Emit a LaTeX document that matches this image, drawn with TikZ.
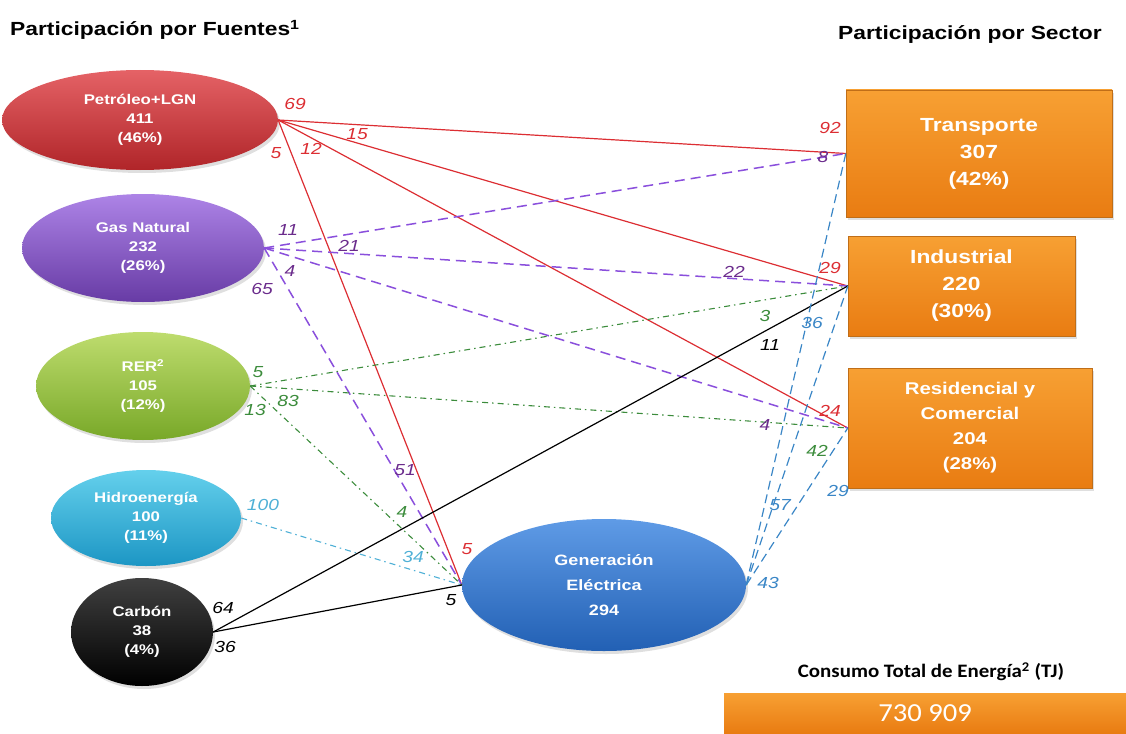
\documentclass[tikz,border=0pt]{standalone}
\usepackage{fontspec}
\setmainfont{Liberation Sans}
\newfontfamily\ancha[FakeStretch=1.2]{Liberation Sans}
\newfontfamily\calfont[FakeStretch=1.1]{Carlito}
\usetikzlibrary{shapes.geometric,shadows}
\definecolor{rojo}{HTML}{DC2E33}
\definecolor{morado}{HTML}{8A4FDC}
\definecolor{moradoT}{HTML}{6B2C8C}
\definecolor{verde}{HTML}{3C8C3C}
\definecolor{celeste}{HTML}{4FB0D6}
\definecolor{azul}{HTML}{3A86C6}
\definecolor{naranja}{HTML}{F08A1E}

\begin{document}
\begin{tikzpicture}[x=1pt,y=-1pt,
  fuente/.style={ellipse,inner sep=0pt,text=white,align=center,
    drop shadow={opacity=0.25,shadow xshift=2pt,shadow yshift=-3pt},
    font=\ancha\fontsize{14}{19}\selectfont\bfseries},
  sector/.style={rectangle,inner sep=0pt,text=white,align=center,draw=naranja!80!black,
    drop shadow={opacity=0.25,shadow xshift=2pt,shadow yshift=-3pt},
    top color={rgb,255:red,247;green,160;blue,51},bottom color={rgb,255:red,233;green,124;blue,18},
    font=\ancha\fontsize{19}{27}\selectfont\bfseries},
  titulo/.style={anchor=west,inner sep=0pt,font=\ancha\fontsize{19}{22}\selectfont\bfseries},
  etq/.style={inner sep=0pt,font=\ancha\fontsize{16}{16}\selectfont\itshape}]
\useasboundingbox (0,0) rectangle (1126,733);
%Fuentes
\node[fuente,minimum width=276,minimum height=100,top color=rojo!75!white,bottom color=rojo!80!black] (pet) at (140,120) {Petróleo+LGN\\411\\(46\%)};
\node[fuente,minimum width=242,minimum height=108,top color=morado!70!white,bottom color=morado!75!black] (gas) at (143,248) {Gas Natural\\232\\(26\%)};
\node[fuente,minimum width=214,minimum height=108,top color={rgb,255:red,190;green,220;blue,110},bottom color={rgb,255:red,120;green,168;blue,40}] (rer) at (143,386) {RER\textsuperscript{2}\\105\\(12\%)};
\node[fuente,minimum width=190,minimum height=96,top color={rgb,255:red,100;green,208;blue,236},bottom color={rgb,255:red,28;green,150;blue,196}] (hid) at (146,518) {Hidroenergía\\100\\(11\%)};
\node[fuente,minimum width=142,minimum height=108,top color=black!75,bottom color=black] (car) at (142,632) {Carbón\\38\\(4\%)};
\node[fuente,minimum width=284,minimum height=132,top color={rgb,255:red,95;green,155;blue,230},bottom color={rgb,255:red,34;green,96;blue,180},font=\ancha\fontsize{15}{25}\selectfont\bfseries] (gen) at (604,585) {Generación\\Eléctrica\\294};
%Sectores
\node[sector,minimum width=266,minimum height=127] (tra) at (979,153.5) {Transporte\\307\\(42\%)};
\node[sector,minimum width=227,minimum height=100] (ind) at (961.5,286) {Industrial\\220\\(30\%)};
\node[sector,minimum width=244,minimum height=120,font=\ancha\fontsize{17}{25}\selectfont\bfseries] (res) at (970,428) {Residencial y\\Comercial\\204\\(28\%)};
\node[sector,minimum width=402,minimum height=40,draw=none,drop shadow={opacity=0},font=\calfont\fontsize{26}{28}\selectfont] (tot) at (925,713) {730 909};
%Flujos
\draw[rojo,line width=1.2] (pet.east) -- (tra.west);
\draw[rojo,line width=1.2] (pet.east) -- (ind.west);
\draw[rojo,line width=1.2] (pet.east) -- (res.west);
\draw[rojo,line width=1.2] (pet.east) -- (gen.west);
\draw[morado,line width=1.5,dash pattern=on 10pt off 6pt] (gas.east) -- (tra.west);
\draw[morado,line width=1.5,dash pattern=on 10pt off 6pt] (gas.east) -- (ind.west);
\draw[morado,line width=1.5,dash pattern=on 10pt off 6pt] (gas.east) -- (res.west);
\draw[morado,line width=1.5,dash pattern=on 10pt off 6pt] (gas.east) -- (gen.west);
\draw[verde,line width=1.1,dash pattern=on 6pt off 4pt on 1.5pt off 4pt] (rer.east) -- (ind.west);
\draw[verde,line width=1.1,dash pattern=on 6pt off 4pt on 1.5pt off 4pt] (rer.east) -- (res.west);
\draw[verde,line width=1.1,dash pattern=on 6pt off 4pt on 1.5pt off 4pt] (rer.east) -- (gen.west);
\draw[celeste,line width=1.1,dash pattern=on 6pt off 4pt on 1.5pt off 4pt] (hid.east) -- (gen.west);
\draw[black,line width=1.2] (car.east) -- (ind.west);
\draw[black,line width=1.2] (car.east) -- (gen.west);
\draw[azul,line width=1.2,dash pattern=on 9pt off 5pt] (gen.east) -- (tra.west);
\draw[azul,line width=1.2,dash pattern=on 9pt off 5pt] (gen.east) -- (ind.west);
\draw[azul,line width=1.2,dash pattern=on 9pt off 5pt] (gen.east) -- (res.west);
%Text
\node[titulo] (tfu) at (10,30) {Participación por Fuentes\textsuperscript{1}};
\node[titulo] (tse) at (838,35) {Participación por Sector};
\node[inner sep=0pt,font=\calfont\bfseries\fontsize{19}{21}\selectfont] (tco) at (931,672) {Consumo Total de Energía\textsuperscript{2} (TJ)};
\node[etq,rojo] (p69) at (295,104) {69};
\node[etq,rojo] (p15) at (357,134) {15};
\node[etq,rojo] (p12) at (311,149) {12};
\node[etq,rojo] (p5) at (276,153) {5};
\node[etq,rojo] (p92) at (830,128) {92};
\node[etq,rojo] (p29) at (830,268) {29};
\node[etq,rojo] (p24) at (830,411) {24};
\node[etq,rojo] (p5g) at (467,549) {5};
\node[etq,moradoT] (g11) at (288,230) {11};
\node[etq,moradoT] (g21) at (349,246) {21};
\node[etq,moradoT] (g4) at (290,271) {4};
\node[etq,moradoT] (g65) at (262,289) {65};
\node[etq,moradoT] (g8) at (823,157) {8};
\node[etq,moradoT] (g22) at (734,272) {22};
\node[etq,moradoT] (g4r) at (765,425) {4};
\node[etq,moradoT] (g51) at (405,470) {51};
\node[etq,verde] (r5) at (258,372) {5};
\node[etq,verde] (r13) at (255,410) {13};
\node[etq,verde] (r83) at (288,401) {83};
\node[etq,verde] (r3) at (765,316) {3};
\node[etq,verde] (r42) at (817,451) {42};
\node[etq,verde] (r4) at (402,512) {4};
\node[etq,celeste] (h100) at (263,505) {100};
\node[etq,celeste] (h34) at (413,557) {34};
\node[etq] (c64) at (223,608) {64};
\node[etq] (c36) at (225,647) {36};
\node[etq] (c11) at (770,345) {11};
\node[etq] (c5) at (451,600) {5};
\node[etq,azul] (e36) at (812,323) {36};
\node[etq,azul] (e57) at (780,505) {57};
\node[etq,azul] (e29) at (838,491) {29};
\node[etq,azul] (e43) at (768,583) {43};
\end{tikzpicture}
\end{document}
